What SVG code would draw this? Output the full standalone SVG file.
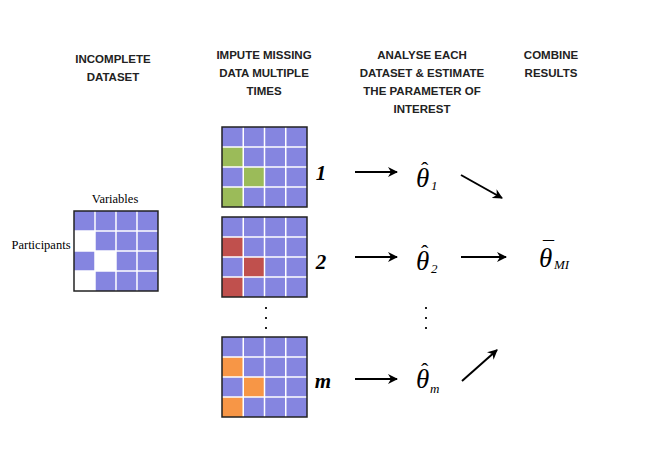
<svg xmlns="http://www.w3.org/2000/svg" width="645" height="454" viewBox="0 0 645 454">
<style>
.hd{font-family:"Liberation Sans",Arial,sans-serif;font-weight:bold;font-size:11.5px;fill:#222;text-anchor:middle}
.lb{font-family:"Liberation Serif","Times New Roman",serif;font-size:12.5px;fill:#000}
.num{font-family:"Liberation Serif","Times New Roman",serif;font-weight:bold;font-style:italic;font-size:21px;fill:#000;text-anchor:middle}
.th{font-family:"Liberation Serif","Times New Roman",serif;font-style:italic;font-size:27px;fill:#000}
.acc{font-style:normal;font-size:22px}
.sub{font-size:13px}
.cell{fill:#8585e0}
.gl{stroke:#fff;stroke-width:1.5}
.bd{fill:none;stroke:#222;stroke-width:1.5}
.ar{stroke:#000;stroke-width:2;fill:none;marker-end:url(#ah)}
.dot{fill:#222}
</style>
<defs>
<marker id="ah" viewBox="0 0 10 10" refX="9" refY="5" markerWidth="5" markerHeight="5" orient="auto" markerUnits="strokeWidth">
<path d="M0,0 L10,5 L0,10 L3,5 Z" fill="#000"/>
</marker>
<g id="gridlines">
<line class="gl" x1="21.25" y1="0" x2="21.25" y2="80"/>
<line class="gl" x1="42.5" y1="0" x2="42.5" y2="80"/>
<line class="gl" x1="63.75" y1="0" x2="63.75" y2="80"/>
<line class="gl" x1="0" y1="20" x2="85" y2="20"/>
<line class="gl" x1="0" y1="40" x2="85" y2="40"/>
<line class="gl" x1="0" y1="60" x2="85" y2="60"/>
</g>
</defs>

<g id="headers">
<text class="hd" x="113" y="63">INCOMPLETE</text>
<text class="hd" x="113" y="81">DATASET</text>
<text class="hd" x="264" y="59">IMPUTE MISSING</text>
<text class="hd" x="264" y="77">DATA MULTIPLE</text>
<text class="hd" x="264" y="95">TIMES</text>
<text class="hd" x="422" y="59">ANALYSE EACH</text>
<text class="hd" x="422" y="77">DATASET &amp; ESTIMATE</text>
<text class="hd" x="422" y="95">THE PARAMETER OF</text>
<text class="hd" x="422" y="113">INTEREST</text>
<text class="hd" x="551" y="59">COMBINE</text>
<text class="hd" x="551" y="77">RESULTS</text>
</g>

<g id="incomplete">
<text class="lb" x="115" y="203" text-anchor="middle">Variables</text>
<text class="lb" x="41" y="249" text-anchor="middle">Participants</text>
<g transform="translate(74,211) scale(0.988,1)">
<rect class="cell" x="0" y="0" width="85" height="80"/>
<rect x="0" y="20" width="21.25" height="20" fill="#fff"/>
<rect x="21.25" y="40" width="21.25" height="20" fill="#fff"/>
<rect x="0" y="60" width="21.25" height="20" fill="#fff"/>
<use href="#gridlines"/>
<rect class="bd" x="0" y="0" width="85" height="80"/>
</g>
</g>

<g id="imputed1" transform="translate(222,127)">
<rect class="cell" x="0" y="0" width="85" height="80"/>
<rect x="0" y="20" width="21.25" height="20" fill="#9bbb59"/>
<rect x="21.25" y="40" width="21.25" height="20" fill="#9bbb59"/>
<rect x="0" y="60" width="21.25" height="20" fill="#9bbb59"/>
<use href="#gridlines"/>
<rect class="bd" x="0" y="0" width="85" height="80"/>
</g>
<g id="imputed2" transform="translate(222,217)">
<rect class="cell" x="0" y="0" width="85" height="80"/>
<rect x="0" y="20" width="21.25" height="20" fill="#c0504d"/>
<rect x="21.25" y="40" width="21.25" height="20" fill="#c0504d"/>
<rect x="0" y="60" width="21.25" height="20" fill="#c0504d"/>
<use href="#gridlines"/>
<rect class="bd" x="0" y="0" width="85" height="80"/>
</g>
<g id="imputedm" transform="translate(222,337)">
<rect class="cell" x="0" y="0" width="85" height="80"/>
<rect x="0" y="20" width="21.25" height="20" fill="#f79646"/>
<rect x="21.25" y="40" width="21.25" height="20" fill="#f79646"/>
<rect x="0" y="60" width="21.25" height="20" fill="#f79646"/>
<use href="#gridlines"/>
<rect class="bd" x="0" y="0" width="85" height="80"/>
</g>

<g id="labels">
<text class="num" x="321" y="180">1</text>
<text class="num" x="321" y="269">2</text>
<text class="num" x="323" y="388">m</text>
</g>

<g id="dots">
<rect class="dot" x="265" y="307" width="2" height="2"/>
<rect class="dot" x="265" y="317" width="2" height="2"/>
<rect class="dot" x="265" y="327" width="2" height="2"/>
<rect class="dot" x="425" y="307" width="2" height="2"/>
<rect class="dot" x="425" y="317" width="2" height="2"/>
<rect class="dot" x="425" y="327" width="2" height="2"/>
</g>

<g id="estimates">
<text id="est1" class="th" x="416" y="187">θ<tspan class="acc" x="421" y="177">ˆ</tspan><tspan class="sub" x="431" y="190">1</tspan></text>
<text id="est2" class="th" x="416" y="270">θ<tspan class="acc" x="421" y="260">ˆ</tspan><tspan class="sub" x="431" y="273">2</tspan></text>
<text id="estm" class="th" x="416" y="388">θ<tspan class="acc" x="421" y="378">ˆ</tspan><tspan class="sub" x="430" y="393">m</tspan></text>
<text id="combined" class="th" x="539" y="267">θ<tspan class="acc" x="543" y="256">¯</tspan><tspan class="sub" x="554" y="269" font-size="10">MI</tspan></text>
</g>

<g id="connectors">
<line class="ar" x1="355" y1="172" x2="397" y2="172"/>
<line class="ar" x1="355" y1="257" x2="397" y2="257"/>
<line class="ar" x1="355" y1="379" x2="397" y2="379"/>
<line class="ar" x1="461" y1="175" x2="502" y2="198"/>
<line class="ar" x1="461" y1="257" x2="506" y2="257"/>
<line class="ar" x1="462" y1="381" x2="497" y2="350"/>
</g>
</svg>
